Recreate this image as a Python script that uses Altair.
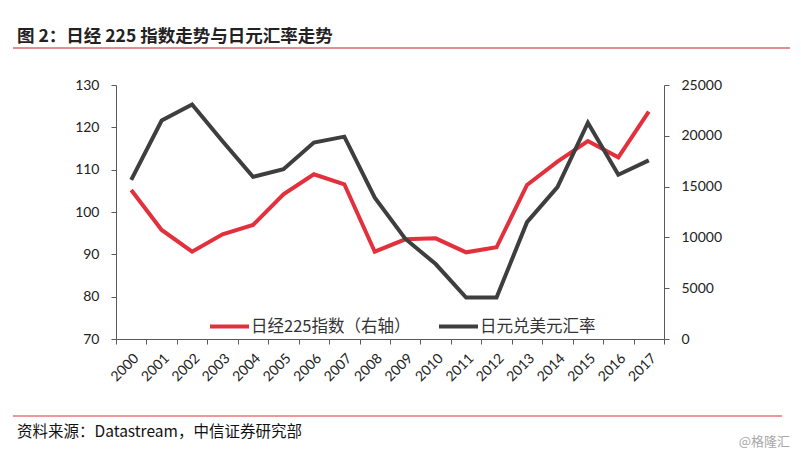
import altair as alt
import pandas as pd

years = ["2000", "2001", "2002", "2003", "2004", "2005", "2006", "2007", "2008",
         "2009", "2010", "2011", "2012", "2013", "2014", "2015", "2016", "2017"]
# 日元兑美元汇率 (left axis)
usdjpy = [107.6, 121.6, 125.4, 116.7, 108.3, 110.1, 116.4, 117.8, 103.4,
          93.7, 87.7, 79.8, 79.8, 97.6, 105.9, 121.1, 108.8, 112.2]
# 日经225指数 (right axis)
nikkei = [14660, 10730, 8590, 10300, 11220, 14240, 16210, 15230, 8590,
          9810, 9910, 8530, 9030, 15160, 17450, 19490, 17880, 22370]

series_names = ["日经225指数（右轴）", "日元兑美元汇率"]
series_colors = ["#E2303C", "#3E3E3E"]
left_ticks = [70, 80, 90, 100, 110, 120, 130]
right_ticks = [0, 5000, 10000, 15000, 20000, 25000]

title_text = "图 2：日经 225 指数走势与日元汇率走势"
source_text = "资料来源：Datastream，中信证券研究部"
mark_text_wm = "@格隆汇"

df_n = pd.DataFrame({"year": years, "value": nikkei, "series": series_names[0]})
df_j = pd.DataFrame({"year": years, "value": usdjpy, "series": series_names[1]})
one = pd.DataFrame({"t": [0]})

CJK = "Noto Sans CJK SC"
NUM = "Lato"
AX = "#5a5a5a"

xscale = alt.Scale(type="band", paddingInner=0, paddingOuter=0)
color = alt.Color(
    "series:N",
    scale=alt.Scale(domain=series_names, range=series_colors),
    legend=alt.Legend(
        orient="none", legendX=92, legendY=220, direction="horizontal",
        title=None, symbolType="stroke", symbolSize=1521, symbolStrokeWidth=4,
        labelFont=CJK, labelFontSize=16.5, labelColor="#333333",
        columnPadding=20, labelOffset=0, padding=0, labelLimit=400,
    ),
)

red = alt.Chart(df_n).mark_line(strokeWidth=4).encode(
    x=alt.X("year:N", sort=years, scale=xscale, bandPosition=0.5, title=None,
            axis=alt.Axis(tickBand="extent", labelAngle=-45, labelAlign="right",
                          labelBaseline="top", labelPadding=7, tickSize=5,
                          domainColor=AX, tickColor=AX, labelFont=NUM,
                          labelFontSize=14, labelColor="#222222", grid=False)),
    y=alt.Y("value:Q", scale=alt.Scale(domain=[0, 25000], nice=False, zero=False),
            axis=alt.Axis(orient="right", values=right_ticks, grid=False, title=None,
                          format="d", tickSize=5, labelPadding=12, domainColor=AX,
                          tickColor=AX, labelFont=NUM, labelFontSize=14,
                          labelColor="#222222")),
    color=color,
)

black = alt.Chart(df_j).mark_line(strokeWidth=4).encode(
    x=alt.X("year:N", sort=years, scale=xscale, bandPosition=0.5, title=None),
    y=alt.Y("value:Q", scale=alt.Scale(domain=[70, 130], nice=False, zero=False),
            axis=alt.Axis(orient="left", values=left_ticks, grid=False, title=None,
                          tickSize=5, labelPadding=12, domainColor=AX, tickColor=AX,
                          labelFont=NUM, labelFontSize=14, labelColor="#222222")),
    color=alt.Color("series:N"),
)

base = alt.Chart(one)
title_mark = base.mark_text(align="left", baseline="middle", font=CJK, fontSize=17.5,
                            fontWeight="bold", color="#222222").encode(
    x=alt.value(-99), y=alt.value(-48), text=alt.value(title_text))
title_rule = base.mark_rule(color="#D86A6A", strokeWidth=1.5).encode(
    x=alt.value(-103), x2=alt.value(674), y=alt.value(-37))
src_rule = base.mark_rule(color="#E03030", strokeWidth=1).encode(
    x=alt.value(-103), x2=alt.value(666), y=alt.value(331))
src_mark = base.mark_text(align="left", baseline="middle", font=CJK, fontSize=15.5,
                          color="#111111").encode(
    x=alt.value(-99), y=alt.value(347), text=alt.value(source_text))
wm_mark = base.mark_text(align="right", baseline="middle", font=CJK, fontSize=13,
                         color="#A8A8A8").encode(
    x=alt.value(674), y=alt.value(357), text=alt.value(mark_text_wm))

chart = alt.layer(red, black, title_mark, title_rule, src_rule, src_mark, wm_mark).resolve_scale(
    y="independent"
).properties(
    width=548, height=254,
    padding={"left": 108, "top": 77, "right": 129, "bottom": 111},
    autosize=alt.AutoSizeParams(type="none"),
    background="white",
).configure_view(stroke=None)

chart.save("out.html", embed_options={"renderer": "svg", "actions": False})
